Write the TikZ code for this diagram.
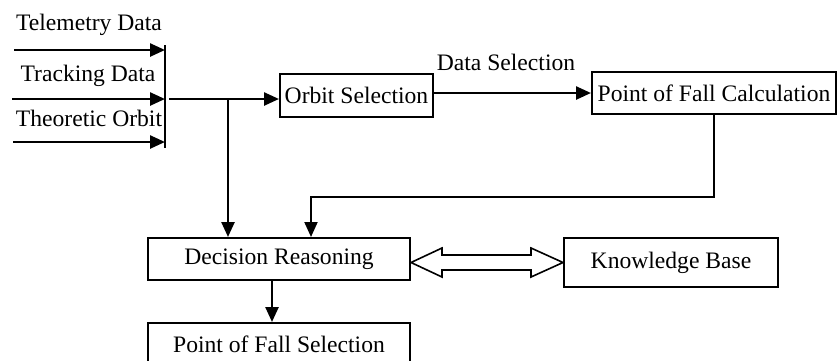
\documentclass[tikz,border=0pt]{standalone}
\usepackage{fontspec}
\setmainfont{Liberation Serif}
\usetikzlibrary{arrows.meta,calc}
\begin{document}
\begin{tikzpicture}[x=1pt,y=-1pt,
  every node/.style={font=\fontsize{23.6}{27}\selectfont, inner sep=0pt},
  box/.style={draw, line width=2pt, align=center},
  flow/.style={line width=2.5pt, -{Triangle[length=15pt,width=13pt]}},
  plain/.style={line width=2.5pt}]
\useasboundingbox (0,0) rectangle (837,360);
\begin{scope}
\clip (0,0) rectangle (837,360);

% input labels
\node (t1) at (89,25) {Telemetry Data};
\node (t2) at (88,76) {Tracking Data};
\node (t3) at (89,118) {Theoretic Orbit};

% input arrows and collecting bar
\coordinate (s1) at (14,50);
\coordinate (s2) at (12,99);
\coordinate (s3) at (13,142);
\coordinate (bt) at (165,45);
\coordinate (bb) at (165,148);
\draw[line width=2pt] (bt) -- (bb);
\draw[flow] (s1) -- (s1 -| bt);
\draw[flow] (s2) -- (s2 -| bt);
\draw[flow] (s3) -- (s3 -| bt);

% boxes
\node[box, minimum width=153pt, minimum height=43pt] (os) at (356.5,95.5) {Orbit Selection};
\node[box, minimum width=244pt, minimum height=42pt] (pc) at (714,93) {Point of Fall Calculation};
\node[box, minimum width=262pt, minimum height=42pt] (dr) at (279,259) {Decision Reasoning};
\node[box, minimum width=262pt, minimum height=42pt] (ps) at (279,344) {Point of Fall Selection};
\node[box, minimum width=214pt, minimum height=49pt] (kb) at (671,262.5) {Knowledge Base};

\node (dsl) at (506,62) {Data Selection};

% main flow
\coordinate (j) at (169,99);
\coordinate (b) at (228,99);
\draw[flow] (j) -- (j -| os.west);
\draw[flow] (b) -- (b |- dr.north);
\draw[flow] (os.east |- pc.west) -- (pc.west);
\coordinate (r) at (311,197);
\draw[line width=2pt, -{Triangle[length=15pt,width=13pt]}] (pc.south) |- (r) -- (r |- dr.north);
\draw[flow] ([xshift=-7pt]dr.south) -- ([xshift=-7pt]ps.north);

% two-way hollow arrow
\coordinate (L) at (dr.east |- kb.west);
\coordinate (R) at (kb.west);
\draw[line width=1.6pt, line join=miter, fill=white]
  (L) -- ($(L)+(31,-14.5)$) -- ($(L)+(31,-7.5)$) -- ($(R)+(-32,-7.5)$)
  -- ($(R)+(-32,-14.5)$) -- (R) -- ($(R)+(-32,14.5)$) -- ($(R)+(-32,7.5)$)
  -- ($(L)+(31,7.5)$) -- ($(L)+(31,14.5)$) -- cycle;
\end{scope}
\end{tikzpicture}
\end{document}
